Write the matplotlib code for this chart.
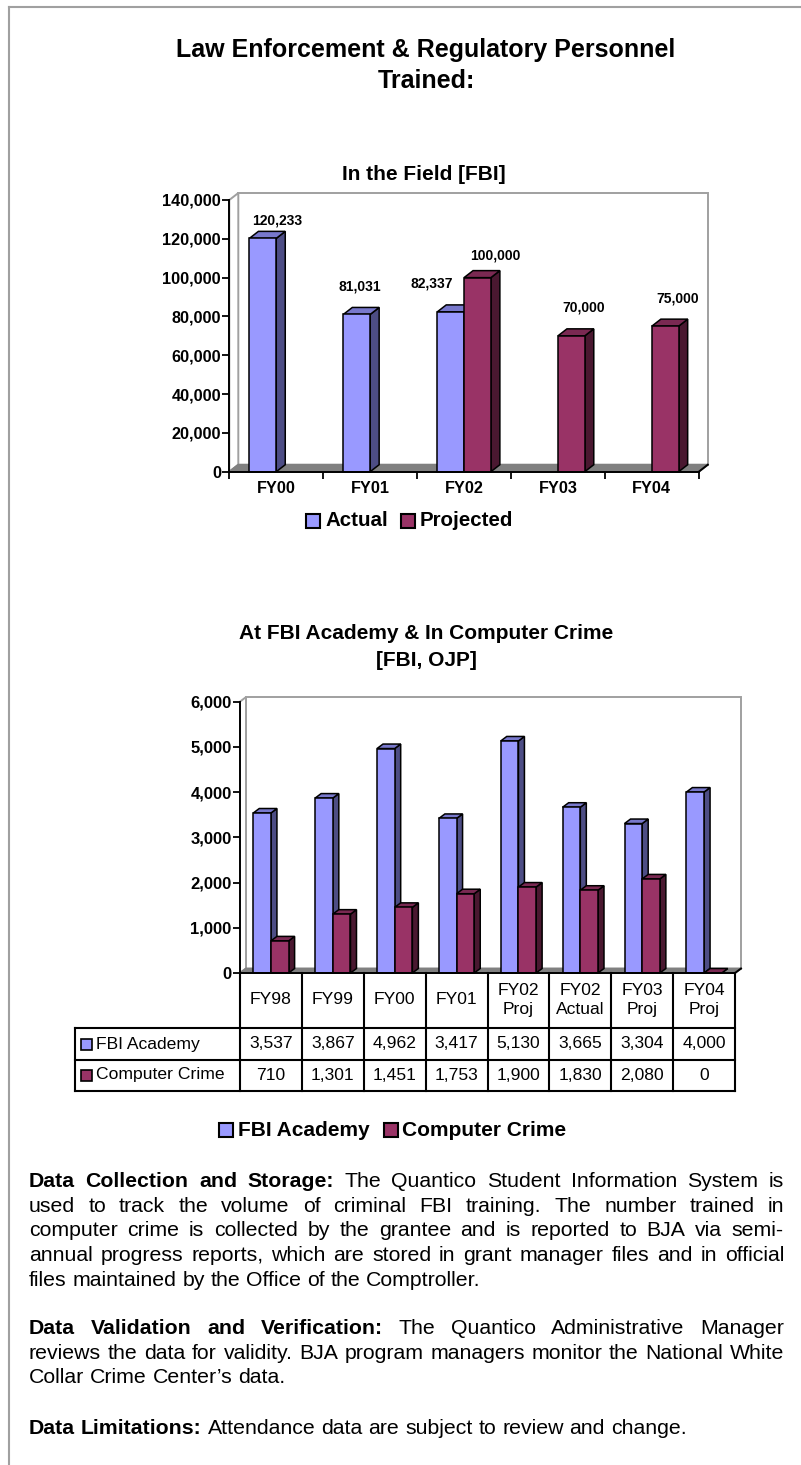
import matplotlib
matplotlib.use('Agg')
import matplotlib.pyplot as plt
from matplotlib.patches import Polygon, Rectangle
from matplotlib.lines import Line2D
import numpy as np

plt.rcParams['font.family'] = ['Liberation Sans', 'DejaVu Sans']

# ---- data ----
field_years = ['FY00', 'FY01', 'FY02', 'FY03', 'FY04']
field_actual = [120233, 81031, 82337, None, None]
field_projected = [None, None, 100000, 70000, 75000]

academy_years = ['FY98', 'FY99', 'FY00', 'FY01', 'FY02\nProj', 'FY02\nActual', 'FY03\nProj', 'FY04\nProj']
fbi_academy = [3537, 3867, 4962, 3417, 5130, 3665, 3304, 4000]
computer_crime = [710, 1301, 1451, 1753, 1900, 1830, 2080, 0]

paragraphs = [
    ('Data Collection and Storage:', [
        'The Quantico Student Information System is',
        'used to track the volume of criminal FBI training. The number trained in',
        'computer crime is collected by the grantee and is reported to BJA via semi-',
        'annual progress reports, which are stored in grant manager files and in official',
        'files maintained by the Office of the Comptroller.']),
    ('Data Validation and Verification:', [
        'The Quantico Administrative Manager',
        'reviews the data for validity. BJA program managers monitor the National White',
        'Collar Crime Center\u2019s data.']),
    ('Data Limitations:', [
        'Attendance data are subject to review and change.']),
]

# ---- colours ----
BLUE = ('#9999ff', '#7878cc', '#4d4d85')   # front, top, side
PLUM = ('#993366', '#7a2952', '#4a1830')
WALL = '#a0a0a0'
FLOOR = '#808080'

W, H = 801, 1465
fig = plt.figure(figsize=(W / 100, H / 100), dpi=100)


def fx(x):
    return x / W


def fy(y):
    return 1 - y / H


def make_axes(left, top, right, bottom):
    ax = fig.add_axes([fx(left), fy(bottom), (right - left) / W, (bottom - top) / H])
    ax.patch.set_visible(False)
    for s in ['top', 'right']:
        ax.spines[s].set_visible(False)
    for s in ['left', 'bottom']:
        ax.spines[s].set_linewidth(1.4)
        ax.spines[s].set_zorder(4)
    return ax


def draw_box(ax, ncat, ymax, ddx, ddy):
    kw = dict(clip_on=False, zorder=1, linewidth=1.4)
    ax.add_patch(Rectangle((ddx, ddy), ncat, ymax, facecolor='white', edgecolor=WALL, **kw))
    ax.add_patch(Polygon([(0, 0), (ddx, ddy), (ddx, ymax + ddy), (0, ymax)],
                         facecolor='white', edgecolor=WALL, **kw))
    ax.add_patch(Polygon([(0, 0), (ncat, 0), (ncat + ddx, ddy), (ddx, ddy)],
                         facecolor=FLOOR, edgecolor=FLOOR, **kw))
    ax.add_line(Line2D([ncat, ncat + ddx], [0, ddy], color='black', lw=1.4, clip_on=False, zorder=4))


def bar3d(ax, x0, w, h, cols, ddx, ddy):
    front, top, side = cols
    kw = dict(edgecolor='black', linewidth=1.1, joinstyle='miter', zorder=3, clip_on=False)
    ax.add_patch(Polygon([(x0 + w, 0), (x0 + w + ddx, ddy), (x0 + w + ddx, h + ddy), (x0 + w, h)],
                         facecolor=side, **kw))
    ax.add_patch(Polygon([(x0, h), (x0 + w, h), (x0 + w + ddx, h + ddy), (x0 + ddx, h + ddy)],
                         facecolor=top, **kw))
    ax.add_patch(Rectangle((x0, 0), w, h, facecolor=front, **kw))


def legend_key(x, y, col):
    fig.add_artist(Rectangle((fx(x), fy(y + 7)), 14 / W, 14 / H, transform=fig.transFigure,
                             facecolor=col, edgecolor='black', linewidth=1.5))


# page frame
fig.add_artist(Line2D([fx(9), fx(9)], [fy(7), 0], color=WALL, lw=1.5))
fig.add_artist(Line2D([fx(9), 1], [fy(7), fy(7)], color=WALL, lw=1.5))

# main title
fig.text(fx(426), fy(50), 'Law Enforcement & Regulatory Personnel', ha='center', va='center',
         fontsize=18, fontweight='bold')
fig.text(fx(426), fy(81), 'Trained:', ha='center', va='center', fontsize=18, fontweight='bold')

# ================= chart 1 : In the Field =================
L1, T1, R1, B1 = 229.3, 200, 698.8, 471.7
ymax1 = 140000
n1 = len(field_years)
ax1 = make_axes(L1, T1, R1, B1)
ax1.set_xlim(0, n1)
ax1.set_ylim(0, ymax1)
ddx1 = 9 * n1 / (R1 - L1)
ddy1 = 7 * ymax1 / (B1 - T1)
draw_box(ax1, n1, ymax1, ddx1, ddy1)

yt = np.arange(0, ymax1 + 1, 20000)
ax1.set_yticks(yt, labels=['{:,}'.format(v) for v in yt], fontsize=11.7, fontweight='bold')
ax1.set_xticks(np.arange(n1) + 0.5, labels=field_years, fontsize=11.7, fontweight='bold')
ax1.set_xticks(np.arange(n1 + 1), minor=True)
ax1.tick_params(axis='y', length=5, width=1.3, pad=1)
ax1.tick_params(axis='x', which='major', length=0, pad=7)
ax1.tick_params(axis='x', which='minor', length=5, width=1.3)

bw1 = 1 / 3.5
# pixel offsets of the value labels from the bar top (as placed in the original)
lab_dx_a = [14, 3.5, -19]
lab_dy_a = [18, 28, 28]
lab_dx_p = [0, 0, 18, 12, 12]
lab_dy_p = [0, 0, 22, 28, 28]
for i in range(n1):
    xa = i + 0.75 * bw1
    xp = xa + bw1
    if field_actual[i] is not None:
        bar3d(ax1, xa, bw1, field_actual[i], BLUE, ddx1, ddy1)
        ax1.annotate('{:,}'.format(field_actual[i]), (xa + bw1 / 2, field_actual[i]),
                     xytext=(lab_dx_a[i], lab_dy_a[i]), textcoords='offset pixels',
                     ha='center', va='center', fontsize=10, fontweight='bold', zorder=6)
    if field_projected[i] is not None:
        bar3d(ax1, xp, bw1, field_projected[i], PLUM, ddx1, ddy1)
        ax1.annotate('{:,}'.format(field_projected[i]), (xp + bw1 / 2, field_projected[i]),
                     xytext=(lab_dx_p[i], lab_dy_p[i]), textcoords='offset pixels',
                     ha='center', va='center', fontsize=10, fontweight='bold', zorder=6)

fig.text(fx(424), fy(174), 'In the Field [FBI]', ha='center', va='center', fontsize=15, fontweight='bold')

legend_key(306, 521, BLUE[0])
fig.text(fx(325), fy(521), 'Actual', ha='left', va='center', fontsize=14.8, fontweight='bold')
legend_key(401, 521, PLUM[0])
fig.text(fx(420), fy(521), 'Projected', ha='left', va='center', fontsize=14.8, fontweight='bold')

# ================= chart 2 : FBI Academy & Computer Crime =================
L2, T2, R2, B2 = 240, 701.6, 735, 973
ymax2 = 6000
n2 = len(academy_years)
ax2 = make_axes(L2, T2, R2, B2)
ax2.set_xlim(0, n2)
ax2.set_ylim(0, ymax2)
ddx2 = 6 * n2 / (R2 - L2)
ddy2 = 4.5 * ymax2 / (B2 - T2)
draw_box(ax2, n2, ymax2, ddx2, ddy2)

yt2 = np.arange(0, ymax2 + 1, 1000)
ax2.set_yticks(yt2, labels=['{:,}'.format(v) for v in yt2], fontsize=12, fontweight='bold')
ax2.set_xticks([])
ax2.tick_params(axis='y', length=5, width=1.3, pad=1)

bw2 = 1 / 3.5
for i in range(n2):
    x0 = i + 0.75 * bw2
    bar3d(ax2, x0, bw2, fbi_academy[i], BLUE, ddx2, ddy2)
    bar3d(ax2, x0 + bw2, bw2, computer_crime[i], PLUM, ddx2, ddy2)

fig.text(fx(426), fy(633), 'At FBI Academy & In Computer Crime', ha='center', va='center',
         fontsize=15, fontweight='bold')
fig.text(fx(426), fy(661), '[FBI, OJP]', ha='center', va='center', fontsize=15, fontweight='bold')

# data table under chart 2
colw = (R2 - L2) / n2
row_y = [B2, 1028, 1060, 1091]
tab_left = 75
lk = dict(color='black', lw=1.5, solid_capstyle='projecting')
for i in range(n2 + 1):
    xc = L2 + i * colw
    fig.add_artist(Line2D([fx(xc), fx(xc)], [fy(B2), fy(row_y[-1])], **lk))
for yy in row_y[1:]:
    fig.add_artist(Line2D([fx(tab_left), fx(R2)], [fy(yy), fy(yy)], **lk))
fig.add_artist(Line2D([fx(tab_left), fx(tab_left)], [fy(row_y[1]), fy(row_y[-1])], **lk))

for i in range(n2):
    xc = L2 + (i + 0.5) * colw
    fig.text(fx(xc), fy(1000), academy_years[i], ha='center', va='center', fontsize=12.6,
             linespacing=1.35, multialignment='center')
    fig.text(fx(xc), fy(1044), '{:,}'.format(fbi_academy[i]), ha='center', va='center', fontsize=12.6)
    fig.text(fx(xc), fy(1075), '{:,}'.format(computer_crime[i]), ha='center', va='center', fontsize=12.6)

for yy, name, col in [(1044, 'FBI Academy', BLUE[0]), (1075, 'Computer Crime', PLUM[0])]:
    fig.add_artist(Rectangle((fx(81), fy(yy + 6)), 11 / W, 11 / H, transform=fig.transFigure,
                             facecolor=col, edgecolor='black', linewidth=1.2))
    fig.text(fx(96), fy(yy), name, ha='left', va='center', fontsize=12.6)

legend_key(219, 1130, BLUE[0])
fig.text(fx(238), fy(1130), 'FBI Academy', ha='left', va='center', fontsize=15, fontweight='bold')
legend_key(384, 1130, PLUM[0])
fig.text(fx(402), fy(1130), 'Computer Crime', ha='left', va='center', fontsize=15, fontweight='bold')

# ================= justified notes =================
TEXT_L, TEXT_R = 29, 784
body = 15.3
space_px = 0.278 * body * 100 / 72
renderer = fig.canvas.get_renderer()


def draw_line(base_y, words, justify):
    objs = []
    for w, b in words:
        objs.append(fig.text(0, fy(base_y), w, fontsize=body, va='baseline', ha='left',
                             fontweight='bold' if b else 'normal'))
    widths = [t.get_window_extent(renderer).width for t in objs]
    gap = space_px
    if justify and len(objs) > 1:
        gap = (TEXT_R - TEXT_L - sum(widths)) / (len(objs) - 1)
    x = TEXT_L
    for t, w in zip(objs, widths):
        t.set_x(fx(x))
        x += w + gap


para_top = [1180, 1327, 1427]
line_gap = 24.7
for (head, lines), y0 in zip(paragraphs, para_top):
    for k, line in enumerate(lines):
        words = [(w, False) for w in line.split()]
        if k == 0:
            words = [(w, True) for w in head.split()] + words
        draw_line(y0 + k * line_gap + 7, words, k < len(lines) - 1)

fig.savefig('out.png', dpi=100)
